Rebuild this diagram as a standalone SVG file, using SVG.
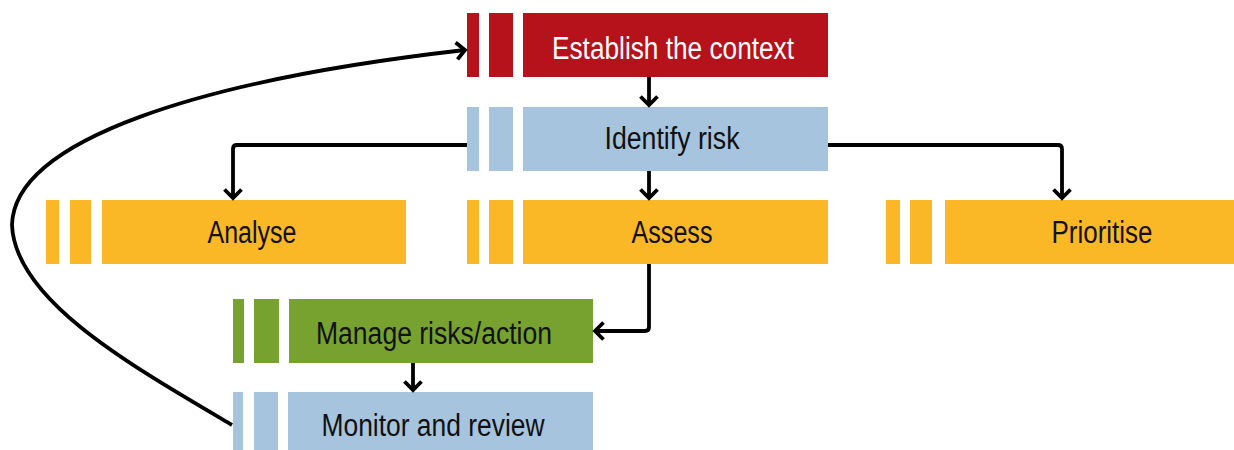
<svg xmlns="http://www.w3.org/2000/svg" width="1234" height="450" viewBox="0 0 1234 450">
  <style>
    .red { fill: #B5121B; }
    .blue { fill: #A7C4DF; }
    .amber { fill: #FBB826; }
    .green { fill: #78A22F; }
    .label { font-family: "Liberation Sans Narrow", "Liberation Sans", Arial, sans-serif; font-size: 31px; fill: #111111; text-anchor: middle; }
    .label.light { fill: #FFFFFF; }
    .link { fill: none; stroke: #000000; stroke-width: 3.8; stroke-linejoin: round; }
  </style>
  <defs>
    <marker id="chevron" markerUnits="userSpaceOnUse" markerWidth="26" markerHeight="26" refX="13" refY="13" orient="auto" overflow="visible">
      <path d="M4.5,4.5 L13,13 L4.5,21.5" fill="none" stroke="#000000" stroke-width="3.8" stroke-linejoin="miter"/>
    </marker>
  </defs>

  <rect width="1234" height="450" fill="#FFFFFF"/>

  <!-- Step boxes: two narrow tabs followed by the labelled bar -->
  <g id="establish" transform="translate(467,13)">
    <rect class="red" x="0" y="0" width="12" height="64"/>
    <rect class="red" x="22" y="0" width="24" height="64"/>
    <rect class="red" x="56" y="0" width="305" height="64"/>
    <text class="label light" x="206" y="46" textLength="242" lengthAdjust="spacingAndGlyphs">Establish the context</text>
  </g>

  <g id="identify" transform="translate(467,107)">
    <rect class="blue" x="0" y="0" width="12" height="64"/>
    <rect class="blue" x="22" y="0" width="24" height="64"/>
    <rect class="blue" x="56" y="0" width="305" height="64"/>
    <text class="label" x="205" y="42" textLength="135" lengthAdjust="spacingAndGlyphs">Identify risk</text>
  </g>

  <g id="analyse" transform="translate(46,200)">
    <rect class="amber" x="0" y="0" width="13" height="64"/>
    <rect class="amber" x="24" y="0" width="21" height="64"/>
    <rect class="amber" x="56" y="0" width="304" height="64"/>
    <text class="label" x="206" y="43" textLength="89" lengthAdjust="spacingAndGlyphs">Analyse</text>
  </g>

  <g id="assess" transform="translate(467,200)">
    <rect class="amber" x="0" y="0" width="12" height="64"/>
    <rect class="amber" x="22" y="0" width="24" height="64"/>
    <rect class="amber" x="56" y="0" width="305" height="64"/>
    <text class="label" x="205" y="43" textLength="81" lengthAdjust="spacingAndGlyphs">Assess</text>
  </g>

  <g id="prioritise" transform="translate(886,200)">
    <rect class="amber" x="0" y="0" width="14" height="64"/>
    <rect class="amber" x="24" y="0" width="22" height="64"/>
    <rect class="amber" x="59" y="0" width="305" height="64"/>
    <text class="label" x="216" y="43" textLength="101" lengthAdjust="spacingAndGlyphs">Prioritise</text>
  </g>

  <g id="manage" transform="translate(233,299)">
    <rect class="green" x="0" y="0" width="11" height="64"/>
    <rect class="green" x="21" y="0" width="25" height="64"/>
    <rect class="green" x="56" y="0" width="304" height="64"/>
    <text class="label" x="201" y="45" textLength="236" lengthAdjust="spacingAndGlyphs">Manage risks/action</text>
  </g>

  <g id="monitor" transform="translate(233,392)">
    <rect class="blue" x="0" y="0" width="10" height="64"/>
    <rect class="blue" x="21" y="0" width="24" height="64"/>
    <rect class="blue" x="55" y="0" width="305" height="64"/>
    <text class="label" x="200" y="44" textLength="223" lengthAdjust="spacingAndGlyphs">Monitor and review</text>
  </g>

  <!-- Connectors -->
  <g id="connectors">
    <path class="link" d="M649,77 L649,105" marker-end="url(#chevron)"/>
    <path class="link" d="M649,171 L649,198" marker-end="url(#chevron)"/>
    <path class="link" d="M467,145 L237,145 Q233,145 233,149 L233,198" marker-end="url(#chevron)"/>
    <path class="link" d="M828,145 L1058,145 Q1062,145 1062,149 L1062,198" marker-end="url(#chevron)"/>
    <path class="link" d="M649,264 L649,327 Q649,331 645,331 L595,331" marker-end="url(#chevron)"/>
    <path class="link" d="M413,363 L413,390" marker-end="url(#chevron)"/>
    <path class="link" d="M232,425 C130,365 15,300 12,225 C14,140 200,80 465,50" marker-end="url(#chevron)"/>
  </g>
</svg>
